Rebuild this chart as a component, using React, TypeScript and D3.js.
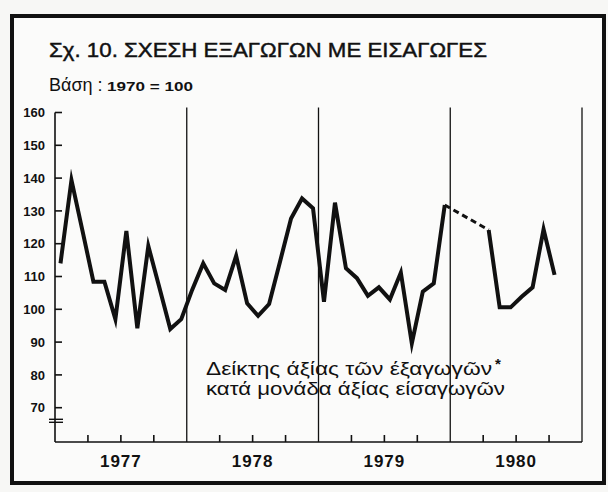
import React, { useEffect } from 'react';
import * as d3 from 'd3';

const years = ["1977", "1978", "1979", "1980"];
const yTicks = [70, 80, 90, 100, 110, 120, 130, 140, 150, 160];
const values1977 = [114, 139.4, 124, 108.4, 108.4, 97, 123.9, 94.2, 119.3, 106.7, 94, 97];
const values1978 = [106, 114, 107.9, 105.9, 116.3, 101.8, 98, 101.6, 114.6, 127.7, 133.8, 130.8];
const values1979 = [102.3, 132.5, 112.5, 109.5, 104.1, 106.7, 103, 111.2, 89.6, 105.4, 107.9, 131.8];
const values1980: (number | null)[] = [null, null, null, 124.2, 100.6, 100.6, 103.8, 106.7, 124.4, 110.5, null, null];

const title = "Σχ. 10. ΣΧΕΣΗ ΕΞΑΓΩΓΩΝ ΜΕ ΕΙΣΑΓΩΓΕΣ";
const baseLabel = "Βάση :";
const baseValue = "1970 = 100";
const legendLines = ["Δείκτης άξίας τῶν έξαγωγῶν", "κατά μονάδα άξίας είσαγωγῶν"];

const W = 608;
const H = 492;
const FONT = "'Liberation Sans', Arial, Helvetica, sans-serif";

export default function App() {
  useEffect(() => {
    document.body.style.margin = '0';
  }, []);

  const series: (number | null)[] = [...values1977, ...values1978, ...values1979, ...values1980];
  const nMonths = years.length * 12;
  const x = d3.scaleLinear().domain([0, nMonths]).range([55, 582]);
  const y = d3.scaleLinear().domain([70, 160]).range([407.7, 112.5]);
  const axisY = 442;
  const axisX = x(0);

  const pts = series.map((v, i) => ({ i, v }));
  const line = d3
    .line<{ i: number; v: number | null }>()
    .defined((d) => d.v != null)
    .x((d) => x(d.i + 0.5))
    .y((d) => y(d.v as number));

  const gaps: { i: number; v: number | null }[][] = [];
  let lastIdx = -1;
  pts.forEach((p, idx) => {
    if (p.v != null) {
      if (lastIdx >= 0 && idx - lastIdx > 1) gaps.push([pts[lastIdx], p]);
      lastIdx = idx;
    }
  });
  const dashLine = d3
    .line<{ i: number; v: number | null }>()
    .x((d) => x(d.i + 0.5))
    .y((d) => y(d.v as number));

  const quarterTicks = d3.range(0, nMonths + 1, 3).filter((m) => m % 12 !== 0);
  const yearBounds = d3.range(12, nMonths + 1, 12);

  return (
    <svg
      width={W}
      height={H}
      style={{ position: 'absolute', left: 0, top: 0, display: 'block' }}
      fontFamily={FONT}
    >
      <rect x={0} y={0} width={W} height={H} fill="#f7f7f5" />
      <rect x={12} y={16} width={592} height={467} fill="#fbfbfa" stroke="#111" strokeWidth={4} />

      <text x={49} y={57} fontSize={20} fill="#111" stroke="#111" strokeWidth={0.45} textLength={438} lengthAdjust="spacingAndGlyphs">
        {title}
      </text>
      <text x={49} y={90.5} fontSize={18} fill="#111">{baseLabel}</text>
      <text x={107} y={90.5} fontSize={12.5} fontWeight="bold" fill="#111" textLength={86} lengthAdjust="spacingAndGlyphs">
        {baseValue}
      </text>

      {/* y axis */}
      <line x1={axisX} x2={axisX} y1={y(160)} y2={axisY} stroke="#111" strokeWidth={1.6} />
      {yTicks.map((t) => (
        <g key={t}>
          <line x1={axisX} x2={axisX + 7} y1={y(t)} y2={y(t)} stroke="#111" strokeWidth={1.6} />
          <text x={45} y={y(t)} dy="0.36em" textAnchor="end" fontSize={13} fontWeight="bold" fill="#111">
            {t}
          </text>
        </g>
      ))}
      <line x1={49} x2={63} y1={419.3} y2={419.3} stroke="#111" strokeWidth={1.4} />
      <line x1={49} x2={63} y1={422.3} y2={422.3} stroke="#111" strokeWidth={1.4} />

      {/* x axis */}
      <line x1={axisX} x2={x(nMonths)} y1={axisY} y2={axisY} stroke="#111" strokeWidth={1.6} />
      {quarterTicks.map((m) => (
        <line key={m} x1={x(m)} x2={x(m)} y1={axisY} y2={axisY - 7} stroke="#111" strokeWidth={1.6} />
      ))}
      {yearBounds.map((m) => (
        <line key={m} x1={x(m)} x2={x(m)} y1={107.5} y2={axisY} stroke="#111" strokeWidth={1.3} />
      ))}
      {years.map((yr, k) => (
        <text
          key={yr}
          x={x(k * 12 + 6)}
          y={467}
          textAnchor="middle"
          fontSize={17}
          fontWeight="bold"
          letterSpacing={1}
          fill="#111"
        >
          {yr}
        </text>
      ))}

      {/* data */}
      <path d={line(pts) || ''} fill="none" stroke="#111" strokeWidth={4} strokeLinejoin="miter" strokeMiterlimit={6} />
      {gaps.map((g, k) => (
        <path key={k} d={dashLine(g) || ''} fill="none" stroke="#111" strokeWidth={3} strokeDasharray="6,4" />
      ))}

      {/* legend */}
      <text x={206} y={375} fontSize={18} fill="#111" textLength={286} lengthAdjust="spacingAndGlyphs">
        {legendLines[0]}
      </text>
      <text x={495} y={369} fontSize={15} fontWeight="bold" fill="#111">*</text>
      <text x={206} y={395} fontSize={18} fill="#111" textLength={299} lengthAdjust="spacingAndGlyphs">
        {legendLines[1]}
      </text>
    </svg>
  );
}
